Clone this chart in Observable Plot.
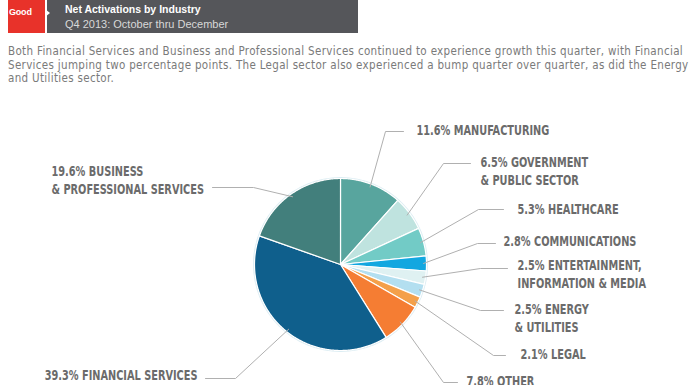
<!DOCTYPE html>
<html><head><meta charset="utf-8">
<script src="https://cdn.jsdelivr.net/npm/d3@7"></script>
<script src="https://cdn.jsdelivr.net/npm/@observablehq/plot@0.6"></script>
<style>
html,body{margin:0;padding:0;background:#fff;width:690px;height:385px;overflow:hidden;position:relative;}
#logo{position:absolute;left:8px;top:0;width:37px;height:33px;background:#e8322a;}
#logo span{position:absolute;left:1px;top:7px;font:bold 9px "Liberation Sans";color:#fff;letter-spacing:-0.2px;}
#logo i{position:absolute;left:37px;top:9px;width:0;height:0;border-top:4px solid transparent;border-bottom:4px solid transparent;border-left:5px solid #fff;z-index:2;}
#bar{position:absolute;left:47px;top:0;width:311px;height:33px;background:#55565a;}
#t1{position:absolute;left:18px;top:3px;font:bold 10.5px "Liberation Sans";color:#fff;white-space:nowrap;}
#t2{position:absolute;left:18px;top:18px;font:11px "Liberation Sans";color:#d8d8d8;white-space:nowrap;}
#para{position:absolute;left:8px;top:45px;font:11.5px "DejaVu Sans Condensed";color:#7a7a7a;line-height:13.5px;white-space:nowrap;}
#chart{position:absolute;left:0;top:95px;}
</style></head>
<body>
<div id="bar"><div id="t1">Net Activations by Industry</div><div id="t2">Q4 2013: October thru December</div></div>
<div id="logo"><span>Good</span><i></i></div>
<div id="para"><span id="p1">Both Financial Services and Business and Professional Services continued to experience growth this quarter, with Financial</span><br>Services jumping two percentage points. The Legal sector also experienced a bump quarter over quarter, as did the Energy<br>and Utilities sector.</div>
<div id="chart"></div>
<script>
const industries = ["Manufacturing","Government & Public Sector","Healthcare","Communications","Entertainment, Information & Media","Energy & Utilities","Legal","Other","Financial Services","Business & Professional Services"];
const shares = [11.6, 6.5, 5.3, 2.8, 2.5, 2.5, 2.1, 7.8, 39.3, 19.6];
const labelNames = [["MANUFACTURING"],["GOVERNMENT","& PUBLIC SECTOR"],["HEALTHCARE"],["COMMUNICATIONS"],["ENTERTAINMENT,","INFORMATION & MEDIA"],["ENERGY","& UTILITIES"],["LEGAL"],["OTHER"],["FINANCIAL SERVICES"],["BUSINESS","& PROFESSIONAL SERVICES"]];
const palette = ["#58a59e","#bfe3df","#72cbc6","#12a7e0","#dff1f2","#b3dff0","#f4a04a","#f57d33","#0f5f8c","#427f7c"];

// fit paragraph first line to the reference width
(function(){
  const p1 = document.getElementById("p1");
  const w = p1.getBoundingClientRect().width;
  const ls = (675 - w) / p1.textContent.length;
  document.getElementById("para").style.letterSpacing = ls.toFixed(3) + "px";
})();

// layout (page pixel coordinates)
const cx = 340, cy = 264, R = 86;
const labelLayout = [
 {lx:416, ly:130,   ex:385, ey:131, hx:403, hy:131, anchor:"start"},
 {lx:480, ly:162,   ex:443, ey:163, hx:470, hy:163, anchor:"start"},
 {lx:517, ly:209.5, ex:478, ey:209, hx:503, hy:209, anchor:"start"},
 {lx:503, ly:241.5, ex:477, ey:243, hx:495, hy:243, anchor:"start"},
 {lx:517, ly:265.5, ex:480, ey:268, hx:507, hy:268, anchor:"start"},
 {lx:514, ly:309,   ex:480, ey:310, hx:503, hy:310, anchor:"start"},
 {lx:520, ly:354,   ex:493, ey:355, hx:505, hy:355, anchor:"start"},
 {lx:466, ly:381,   ex:443, ey:382, hx:457, hy:382, anchor:"start"},
 {lx:197, ly:375,   ex:235, ey:378, hx:205, hy:378, anchor:"end"},
 {lx:51,  ly:171,   ex:253, ey:187, hx:212, hy:187, anchor:"start"}
];
const lineGap = 18;

const arcs = d3.pie().sort(null).value(d => d)(shares);
const slicePts = [];
arcs.forEach((p, i) => {
  const n = Math.max(2, Math.ceil((p.endAngle - p.startAngle) / 0.01));
  slicePts.push({name: industries[i], x: cx, y: cy});
  for (let k = 0; k <= n; k++) {
    const a = p.startAngle + (p.endAngle - p.startAngle) * k / n;
    slicePts.push({name: industries[i], x: cx + R * Math.sin(a), y: cy - R * Math.cos(a)});
  }
});
const leaderPts = [];
arcs.forEach((p, i) => {
  const m = (p.startAngle + p.endAngle) / 2, L = labelLayout[i];
  leaderPts.push({name: industries[i], x: cx + (R - 3) * Math.sin(m), y: cy - (R - 3) * Math.cos(m)});
  leaderPts.push({name: industries[i], x: L.ex, y: L.ey});
  leaderPts.push({name: industries[i], x: L.hx, y: L.hy});
});
const labelRows = [];
industries.forEach((name, i) => {
  const L = labelLayout[i];
  labelNames[i].forEach((t, k) => {
    labelRows.push({text: (k === 0 ? shares[i] + "% " : "") + t, x: L.lx, y: L.ly + k * lineGap, anchor: L.anchor});
  });
});

const textStyle = {x: "x", y: "y", text: "text", fill: "#6b6b6b", fontWeight: "bold", fontSize: 14, fontFamily: "DejaVu Sans Condensed", lineAnchor: "middle"};
const chart = Plot.plot({
  width: 690, height: 290, margin: 0,
  x: {domain: [0, 690], range: [0, 690], axis: null},
  y: {domain: [95, 385], range: [0, 290], axis: null},
  color: {domain: industries, range: palette},
  marks: [
    Plot.dot([{x: cx, y: cy}], {x: "x", y: "y", r: R + 1.5, fill: "#dcedf3", stroke: "none"}),
    Plot.line(slicePts, {x: "x", y: "y", z: "name", fill: "name", stroke: "white", strokeWidth: 1.2, curve: "linear-closed"}),
    Plot.line(leaderPts, {x: "x", y: "y", z: "name", stroke: "#b0b0b0", strokeWidth: 1}),
    Plot.text(labelRows.filter(d => d.anchor === "start"), {...textStyle, textAnchor: "start", className: "lbl"}),
    Plot.text(labelRows.filter(d => d.anchor === "end"), {...textStyle, textAnchor: "end", className: "lbl"})
  ]
});
document.getElementById("chart").appendChild(chart);

// condense label glyphs horizontally (reference uses a tall condensed face)
(function(){
  const texts = chart.querySelectorAll("g.lbl text");
  let ref = null;
  texts.forEach(t => { if (t.textContent.indexOf("MANUFACTURING") >= 0) ref = t; });
  const s = ref ? 133 / ref.getComputedTextLength() : 0.8;
  texts.forEach(t => {
    const tr = t.getAttribute("transform") || "";
    if (tr) t.setAttribute("transform", tr + ` scale(${s.toFixed(3)},1)`);
    else {
      const x = +t.getAttribute("x") || 0, y = +t.getAttribute("y") || 0;
      t.setAttribute("transform", `translate(${x},${y}) scale(${s.toFixed(3)},1)`);
      t.setAttribute("x", 0); t.setAttribute("y", 0);
    }
  });
})();
</script>
</body></html>
